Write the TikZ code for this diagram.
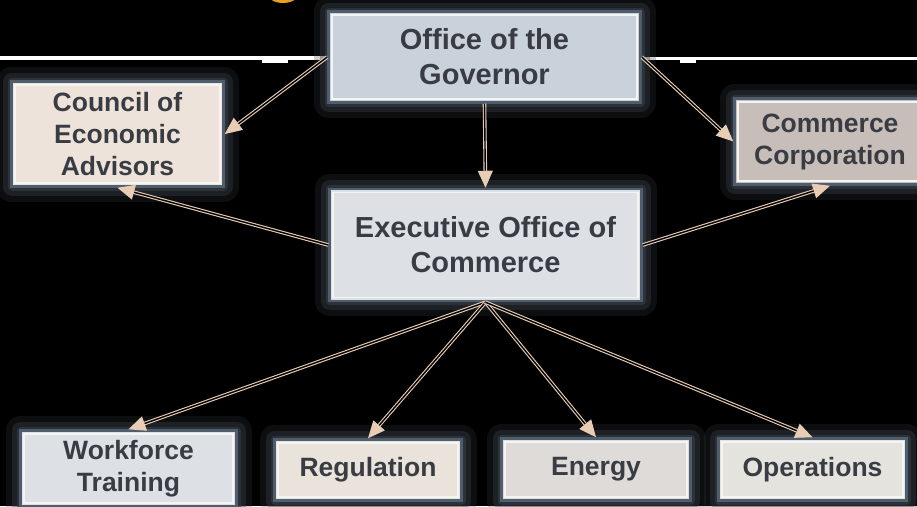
\documentclass[tikz,border=0pt]{standalone}
\usepackage{fontspec}
\setmainfont{Liberation Sans}
\usetikzlibrary{arrows.meta}
\definecolor{edgec}{HTML}{4E5E6E}
\definecolor{innerc}{HTML}{F4F4F2}
\definecolor{glowc}{HTML}{353B43}
\definecolor{txtc}{HTML}{393C42}
\definecolor{tanc}{HTML}{E8CDB4}
\definecolor{govfill}{HTML}{C9D1DB}
\definecolor{exefill}{HTML}{DDE1E6}
\definecolor{councilfill}{HTML}{EEE3DA}
\definecolor{corpfill}{HTML}{C8BEB9}
\definecolor{regfill}{HTML}{E9E3DC}
\definecolor{energyfill}{HTML}{DEDBD8}
\definecolor{opsfill}{HTML}{E5E3DE}
\definecolor{sunc}{HTML}{E8A020}
\tikzset{
  glow/.style = {preaction={draw=glowc, line width=30pt, draw opacity=0.25, line join=round},
                 preaction={draw=glowc, line width=18pt, draw opacity=0.4, line join=round},
                 preaction={draw=glowc, line width=8pt, draw opacity=0.7, line join=round}},
  box/.style = {rectangle, glow, draw=edgec, line width=2.5pt, text=txtc, align=center, inner sep=0pt,
                path picture={\draw[innerc, line width=1.3pt]
                  ([shift={(3.5pt,-3.5pt)}]path picture bounding box.north west) rectangle
                  ([shift={(-3.5pt,3.5pt)}]path picture bounding box.south east);}},
  bigtext/.style = {font=\fontsize{29}{35}\selectfont\bfseries},
  smalltext/.style = {font=\fontsize{26.5}{32}\selectfont\bfseries},
  link/.style = {draw=tanc, double=black, double distance=1.4pt, line width=1.1pt,
                 -{Triangle[length=17pt, width=15pt, fill=tanc]}}
}
\begin{document}
\begin{tikzpicture}[x=1pt, y=-1pt, node distance=188pt]
% background and frame
\fill[black] (0,0) rectangle (917,506);
\useasboundingbox (0,0) rectangle (917,506);
\begin{scope}
\clip (0,0) rectangle (917,506);
\fill[sunc] (283,-7) ellipse (16 and 10);
\end{scope}
% title rule
\draw[white, line width=4pt] (0,57.5) -- (325,57.5);
\fill[white] (262,56) rectangle (288,63);
\draw[white, line width=3.5pt] (640,58.7) -- (917,58.7);
\fill[white] (680,59) rectangle (696,62.7);
% boxes
\node[box, bigtext, fill=govfill, minimum width=312pt, minimum height=91pt] (gov) at (484.5,57) {Office of the\\Governor};
\node[box, bigtext, fill=exefill, minimum width=312pt, minimum height=112pt, below of = gov, xshift=1pt] (exec) {Executive Office of\\Commerce};
\node[box, smalltext, fill=councilfill, minimum width=212pt, minimum height=105pt, left of = gov, xshift=-179pt, yshift=-77pt] (council) {Council of\\Economic\\Advisors};
\node[box, smalltext, fill=corpfill, minimum width=191pt, minimum height=86pt, right of = gov, xshift=157.5pt, yshift=-84.5pt] (corp) {Commerce\\Corporation};
\node[box, smalltext, fill=exefill, minimum width=216pt, minimum height=76pt, below of = exec, xshift=-357pt, yshift=-35.5pt] (work) {Workforce\\Training};
\node[box, smalltext, fill=regfill, minimum width=187pt, minimum height=61pt, right of = work, xshift=51.5pt, yshift=-1.5pt] (reg) {Regulation};
\node[box, smalltext, fill=energyfill, minimum width=189pt, minimum height=62pt, right of = reg, xshift=40pt, yshift=0.5pt] (energy) {Energy};
\node[box, smalltext, fill=opsfill, minimum width=188pt, minimum height=62pt, right of = energy, xshift=28.5pt] (ops) {Operations};
% links
\draw[link] (gov.west) -- (council.east);
\draw[link] (gov.east) -- (corp.west);
\draw[link] (gov.south) -- (exec.north);
\draw[link] (exec.west) -- (council.south);
\draw[link] (exec.east) -- (corp.south);
\foreach \n in {work,reg,energy,ops}
  \draw[link] (exec.south) -- (\n.north);
\end{tikzpicture}
\end{document}
